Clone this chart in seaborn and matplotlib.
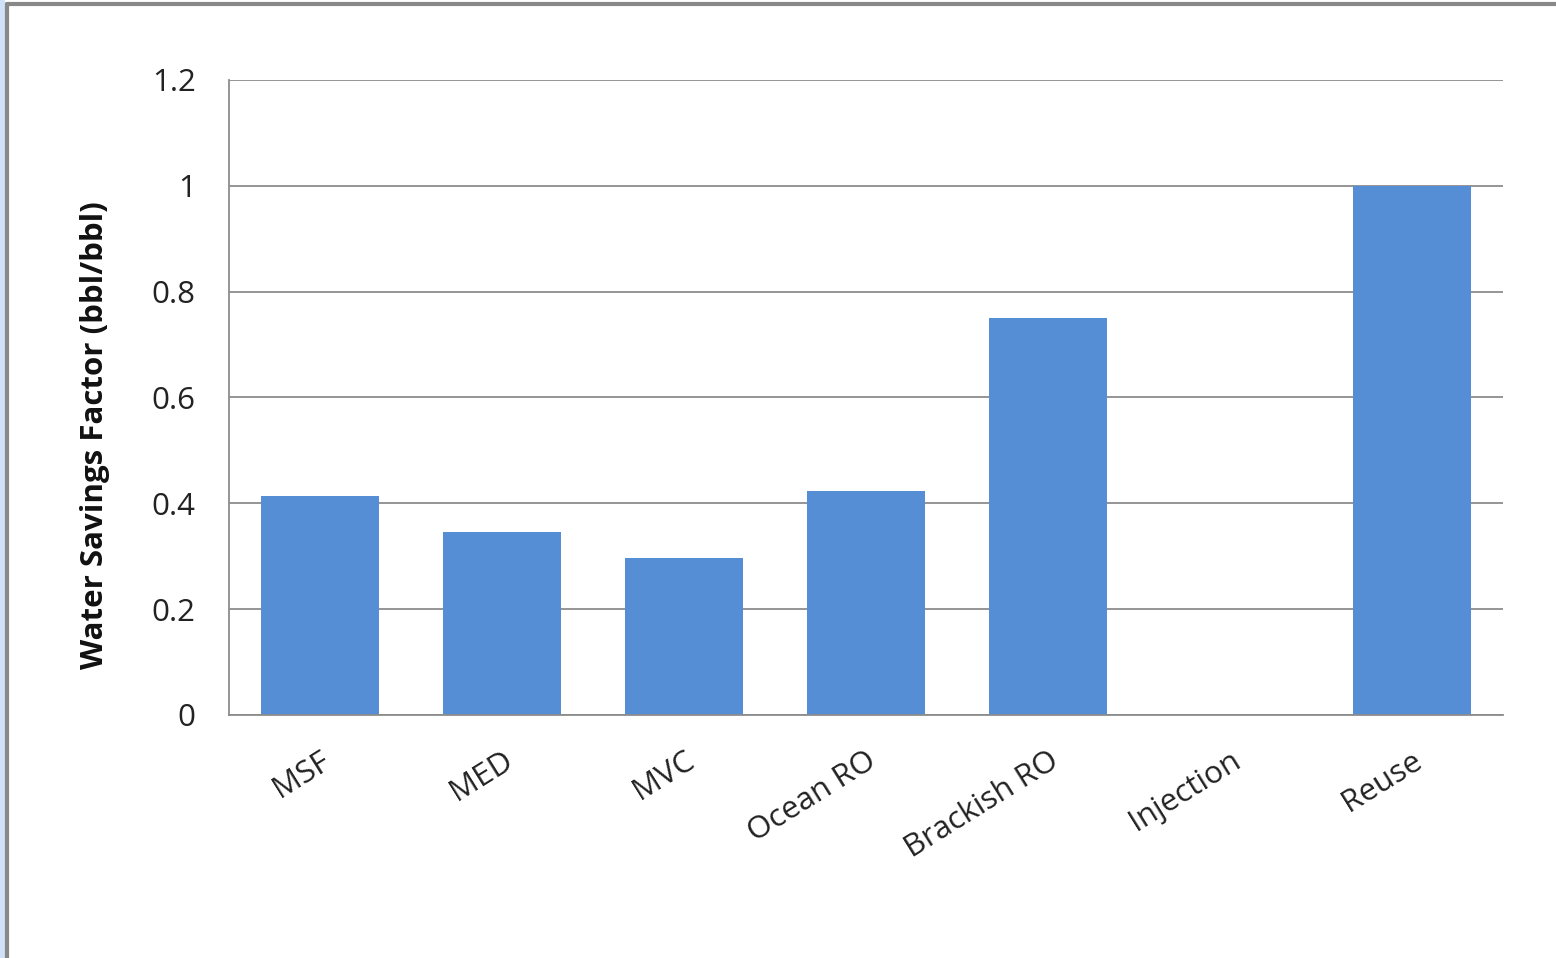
import matplotlib
matplotlib.use("Agg")
import matplotlib.pyplot as plt
from matplotlib.patches import Rectangle
from matplotlib.lines import Line2D
import seaborn as sns
import pandas as pd

categories = ["MSF", "MED", "MVC", "Ocean RO", "Brackish RO", "Injection", "Reuse"]
savings = [0.413, 0.345, 0.297, 0.423, 0.75, 0.0, 1.0]
y_ticks = [0, 0.2, 0.4, 0.6, 0.8, 1, 1.2]
y_tick_labels = ["0", "0.2", "0.4", "0.6", "0.8", "1", "1.2"]

df = pd.DataFrame({"Technology": categories, "Factor": savings})

sns.set_theme(style="white")
plt.rcParams["font.family"] = ["Open Sans", "DejaVu Sans"]

W, H = 1556, 958
fig = plt.figure(figsize=(W / 100, H / 100), dpi=100)
ax = fig.add_axes([229 / W, 1 - 715 / H, (1503 - 229) / W, (715 - 80) / H])

sns.barplot(data=df, x="Technology", y="Factor", color="#558ed5",
            saturation=1, width=0.65, linewidth=0, ax=ax, zorder=3)

ax.set_ylim(0, 1.2)
ax.set_xlim(-0.5, len(categories) - 0.5)
ax.set_yticks(y_ticks)
ax.set_yticklabels(y_tick_labels, fontsize=22.5, color="#222222")
ax.yaxis.grid(True, color="#8c8c8c", linewidth=1.3, zorder=0)
ax.set_axisbelow(True)

for side in ["top", "right"]:
    ax.spines[side].set_visible(False)
for side in ["left", "bottom"]:
    ax.spines[side].set_color("#8c8c8c")
    ax.spines[side].set_linewidth(1.3)
    ax.spines[side].set_zorder(4)

ax.tick_params(axis="y", length=0, pad=24)
ax.tick_params(axis="x", length=0, pad=22)
ax.set_xticks(range(len(categories)))
ax.set_xticklabels(categories, rotation=32, ha="right", rotation_mode="anchor",
                   fontsize=22.5, color="#222222")
ax.set_xlabel("")
ax.set_ylabel("Water Savings Factor (bbl/bbl)", fontsize=22.5, fontweight="bold",
              color="#111111", va="center")
ax.yaxis.set_label_coords(-0.105, 0.441)

# outer frame: light blue strip on the left and grey border
fig.patches.append(Rectangle((0, 0), 5 / W, 1, transform=fig.transFigure,
                             facecolor="#cfe2fa", edgecolor="none", zorder=0))
fig.lines.append(Line2D([7 / W, 7 / W], [0, 1 - 4 / H], transform=fig.transFigure,
                        color="#888888", linewidth=3))
fig.lines.append(Line2D([7 / W, 1], [1 - 4 / H, 1 - 4 / H], transform=fig.transFigure,
                        color="#888888", linewidth=3))

fig.savefig("out.png", dpi=100, facecolor="white")
